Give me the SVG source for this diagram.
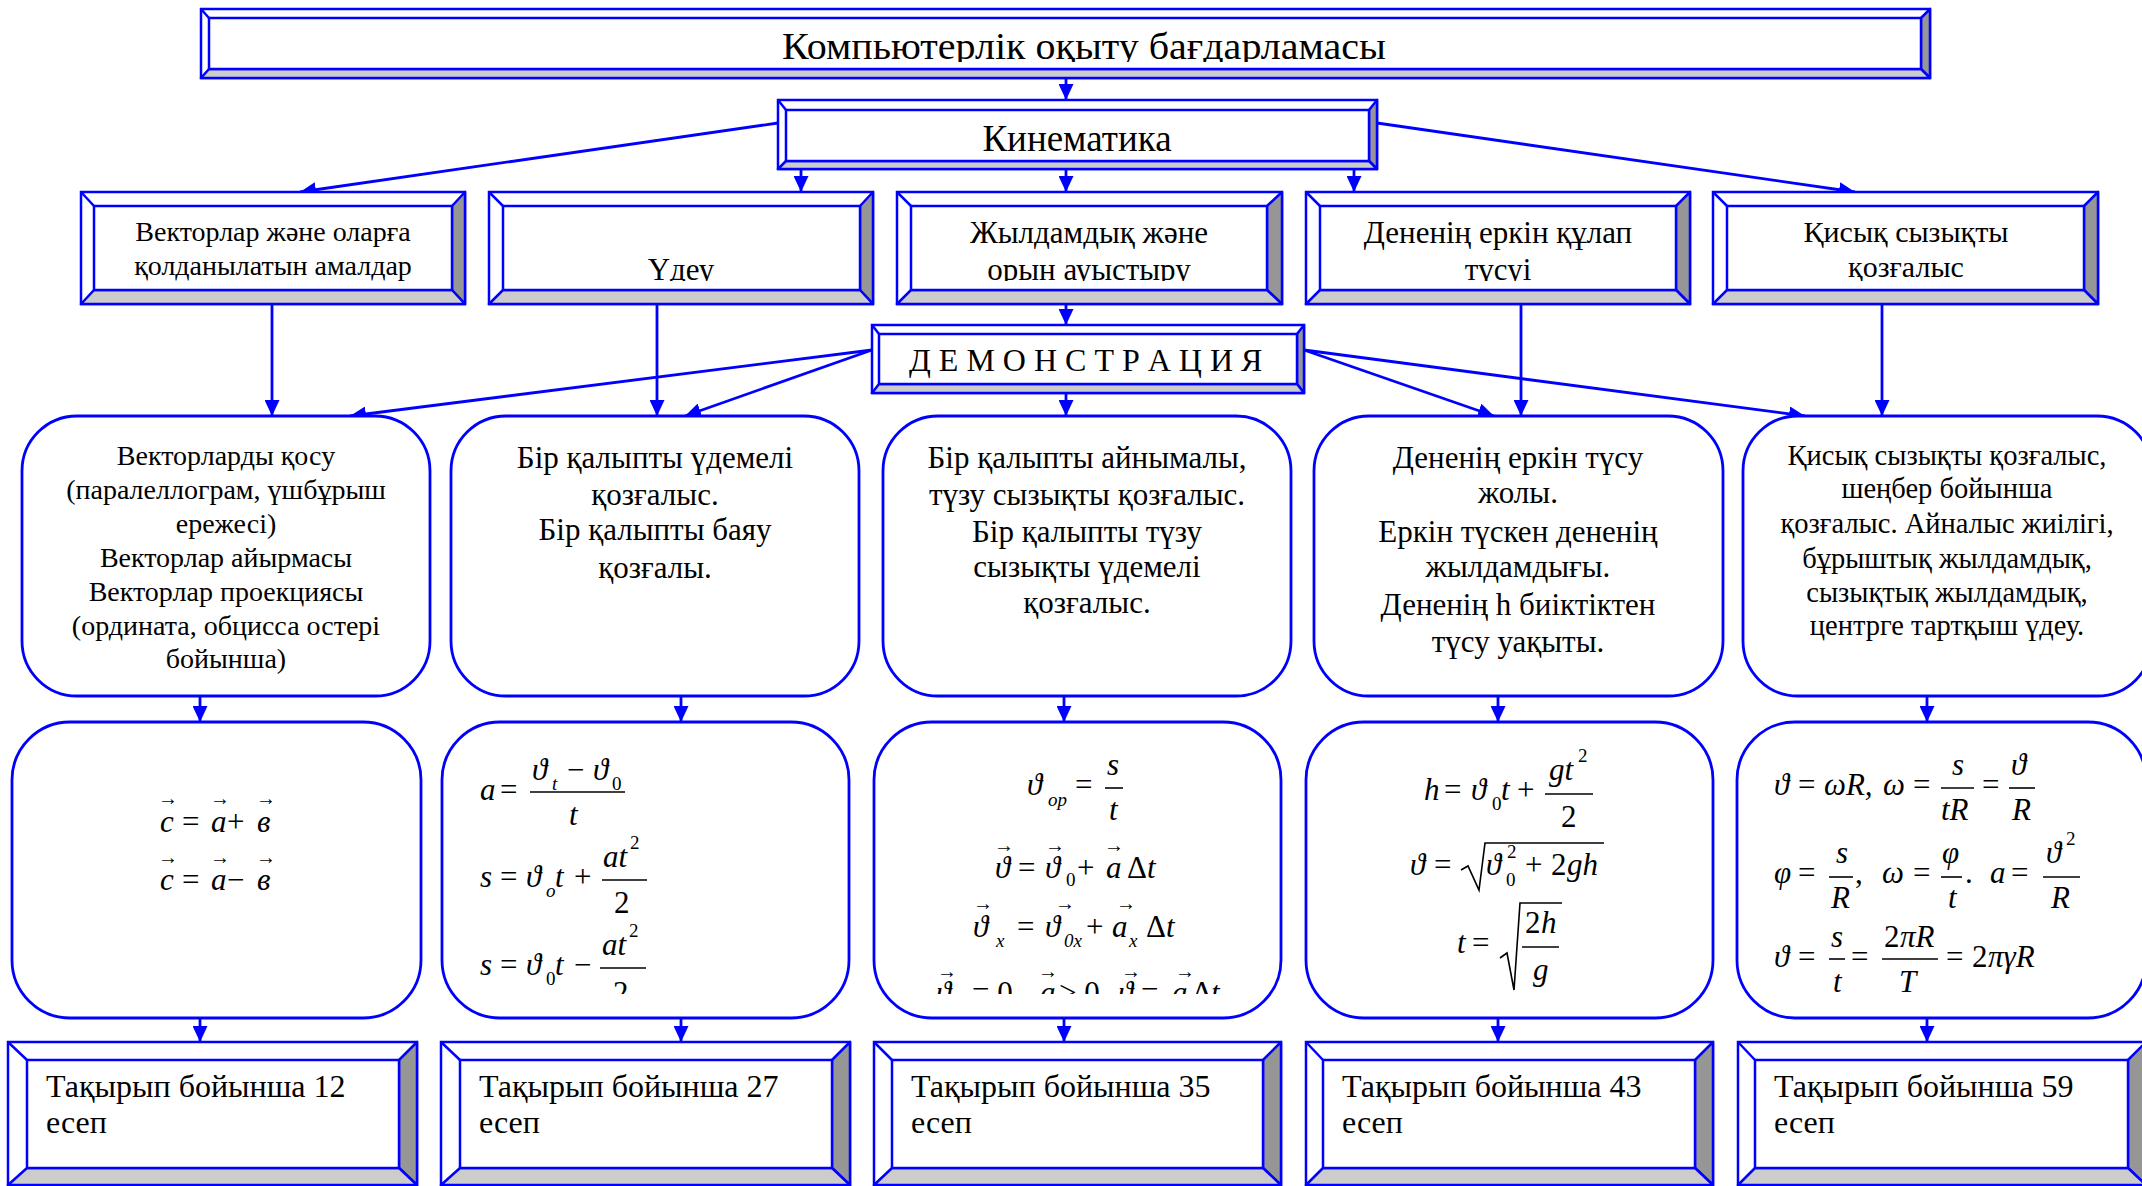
<svg xmlns="http://www.w3.org/2000/svg" width="2142" height="1186" viewBox="0 0 2142 1186">
<defs>
<style>
.o{fill:#fff;stroke:#00f;stroke-width:2.5}
.dk{fill:#969696;stroke:#00f;stroke-width:2.5;stroke-linejoin:round}
.lt{fill:#cccccc;stroke:#00f;stroke-width:2.5;stroke-linejoin:round}
.dg{stroke:#00f;stroke-width:2.5;fill:none}
.r{fill:#fff;stroke:#00f;stroke-width:2.8}
.c{stroke:#00f;stroke-width:2.8;fill:none;marker-end:url(#ah)}
.t{font-family:"Liberation Serif","Times New Roman",serif;fill:#000}
.ctr{text-anchor:middle}
.m{font-family:"Liberation Serif","Times New Roman",serif;font-style:italic;font-size:31px;fill:#000}
.u{font-family:"Liberation Serif","Times New Roman",serif;font-size:31px;fill:#000}
.s{font-size:19px}
.ar{font-family:"Liberation Serif","DejaVu Serif",serif;font-size:20px;fill:#000}
.fl{stroke:#000;stroke-width:1.6;fill:none}
</style>
<marker id="ah" markerUnits="userSpaceOnUse" markerWidth="16" markerHeight="15" refX="16" refY="7.5" orient="auto">
<path d="M0,0 L16,7.5 L0,15 z" fill="#00f"/>
</marker>
<clipPath id="clipTitle"><rect x="209" y="18" width="1712" height="44"/></clipPath>
<clipPath id="clipRow2"><rect x="0" y="206" width="2142" height="75"/></clipPath>
<clipPath id="clipF"><rect x="0" y="730" width="2142" height="264"/></clipPath>
</defs>

<g id="connectors">
<path class="c" d="M1066,78 L1066,100"/>
<path class="c" d="M778,123 L300,192"/>
<path class="c" d="M801,169 L801,192"/>
<path class="c" d="M1066,169 L1066,192"/>
<path class="c" d="M1354,169 L1354,192"/>
<path class="c" d="M1377,123 L1855,192"/>
<path class="c" d="M272,304 L272,416"/>
<path class="c" d="M657,304 L657,416"/>
<path class="c" d="M1066,304 L1066,325"/>
<path class="c" d="M1066,393 L1066,416"/>
<path class="c" d="M1521,304 L1521,416"/>
<path class="c" d="M1882,304 L1882,416"/>
<path class="c" d="M872,350 L350,416"/>
<path class="c" d="M872,350 L685,416"/>
<path class="c" d="M1304,350 L1494,416"/>
<path class="c" d="M1304,350 L1805,416"/>
<path class="c" d="M200,696 L200,722"/>
<path class="c" d="M681,696 L681,722"/>
<path class="c" d="M1064,696 L1064,722"/>
<path class="c" d="M1498,696 L1498,722"/>
<path class="c" d="M1927,696 L1927,722"/>
<path class="c" d="M200,1018 L200,1042"/>
<path class="c" d="M681,1018 L681,1042"/>
<path class="c" d="M1064,1018 L1064,1042"/>
<path class="c" d="M1498,1018 L1498,1042"/>
<path class="c" d="M1927,1018 L1927,1042"/>
</g>

<g id="title">
<rect class="o" x="201" y="9" width="1729" height="69"/>
<polygon class="dk" points="1930,9 1930,78 1921,69 1921,18"/>
<polygon class="lt" points="201,78 1930,78 1921,69 209,69"/>
<rect class="o" x="209" y="18" width="1712" height="51"/>
<line class="dg" x1="201" y1="9" x2="209" y2="18"/>
<text class="t" x="782" y="59" font-size="38" textLength="604" lengthAdjust="spacingAndGlyphs" clip-path="url(#clipTitle)">Компьютерлік оқыту бағдарламасы</text>
</g>

<g id="kinematika">
<rect class="o" x="778" y="100" width="599" height="69"/>
<polygon class="dk" points="1377,100 1377,169 1369,161 1369,110"/>
<polygon class="lt" points="778,169 1377,169 1369,161 786,161"/>
<rect class="o" x="786" y="110" width="583" height="51"/>
<line class="dg" x1="778" y1="100" x2="786" y2="110"/>
<text class="t ctr" x="1077" y="151" font-size="37">Кинематика</text>
</g>

<g id="b2-1">
<rect class="o" x="81" y="192" width="384" height="112"/>
<polygon class="dk" points="465,192 465,304 452,290 452,206"/>
<polygon class="lt" points="81,304 465,304 452,290 94,290"/>
<rect class="o" x="94" y="206" width="358" height="84"/>
<line class="dg" x1="81" y1="192" x2="94" y2="206"/>
<g clip-path="url(#clipRow2)">
<text class="t ctr" x="273" y="241" font-size="28">Векторлар және оларға</text>
<text class="t ctr" x="273" y="275" font-size="28">қолданылатын амалдар</text>
</g>
</g>

<g id="b2-2">
<rect class="o" x="489" y="192" width="384" height="112"/>
<polygon class="dk" points="873,192 873,304 860,290 860,206"/>
<polygon class="lt" points="489,304 873,304 860,290 503,290"/>
<rect class="o" x="503" y="206" width="357" height="84"/>
<line class="dg" x1="489" y1="192" x2="503" y2="206"/>
<g clip-path="url(#clipRow2)">
<text class="t ctr" x="681" y="280" font-size="31">Үдеу</text>
</g>
</g>

<g id="b2-3">
<rect class="o" x="897" y="192" width="385" height="112"/>
<polygon class="dk" points="1282,192 1282,304 1267,290 1267,206"/>
<polygon class="lt" points="897,304 1282,304 1267,290 911,290"/>
<rect class="o" x="911" y="206" width="356" height="84"/>
<line class="dg" x1="897" y1="192" x2="911" y2="206"/>
<g clip-path="url(#clipRow2)">
<text class="t ctr" x="1089" y="243" font-size="31">Жылдамдық және</text>
<text class="t ctr" x="1089" y="280" font-size="31">орын ауыстыру</text>
</g>
</g>

<g id="b2-4">
<rect class="o" x="1306" y="192" width="384" height="112"/>
<polygon class="dk" points="1690,192 1690,304 1676,290 1676,206"/>
<polygon class="lt" points="1306,304 1690,304 1676,290 1320,290"/>
<rect class="o" x="1320" y="206" width="356" height="84"/>
<line class="dg" x1="1306" y1="192" x2="1320" y2="206"/>
<g clip-path="url(#clipRow2)">
<text class="t ctr" x="1498" y="243" font-size="31">Дененің еркін құлап</text>
<text class="t ctr" x="1498" y="280" font-size="31">түсуі</text>
</g>
</g>

<g id="b2-5">
<rect class="o" x="1713" y="192" width="385" height="112"/>
<polygon class="dk" points="2098,192 2098,304 2084,290 2084,206"/>
<polygon class="lt" points="1713,304 2098,304 2084,290 1727,290"/>
<rect class="o" x="1727" y="206" width="357" height="84"/>
<line class="dg" x1="1713" y1="192" x2="1727" y2="206"/>
<g clip-path="url(#clipRow2)">
<text class="t ctr" x="1906" y="242" font-size="30">Қисық сызықты</text>
<text class="t ctr" x="1906" y="277" font-size="30">қозғалыс</text>
</g>
</g>

<g id="demo">
<rect class="o" x="872" y="325" width="432" height="68"/>
<polygon class="dk" points="1304,325 1304,393 1297,384 1297,334"/>
<polygon class="lt" points="872,393 1304,393 1297,384 879,384"/>
<rect class="o" x="879" y="334" width="418" height="50"/>
<line class="dg" x1="872" y1="325" x2="879" y2="334"/>
<text class="t" x="909" y="371" font-size="32">Д Е М О Н С Т Р А Ц И Я</text>
</g>

<g id="r3-1">
<rect class="r" x="22" y="416" width="408" height="280" rx="55" ry="55"/>
<g class="t ctr" font-size="28">
<text x="226" y="465">Векторларды қосу</text>
<text x="226" y="499">(паралеллограм, үшбұрыш</text>
<text x="226" y="533">ережесі)</text>
<text x="226" y="567">Векторлар айырмасы</text>
<text x="226" y="601">Векторлар проекциясы</text>
<text x="226" y="635">(ордината, обцисса остері</text>
<text x="226" y="668">бойынша)</text>
</g>
</g>

<g id="r3-2">
<rect class="r" x="451" y="416" width="408" height="280" rx="55" ry="55"/>
<g class="t ctr" font-size="31">
<text x="655" y="468">Бір қалыпты үдемелі</text>
<text x="655" y="505">қозғалыс.</text>
<text x="655" y="540">Бір қалыпты баяу</text>
<text x="655" y="578">қозғалы.</text>
</g>
</g>

<g id="r3-3">
<rect class="r" x="883" y="416" width="408" height="280" rx="55" ry="55"/>
<g class="t ctr" font-size="31">
<text x="1087" y="468">Бір қалыпты айнымалы,</text>
<text x="1087" y="505">түзу сызықты қозғалыс.</text>
<text x="1087" y="542">Бір қалыпты түзу</text>
<text x="1087" y="577">сызықты үдемелі</text>
<text x="1087" y="613">қозғалыс.</text>
</g>
</g>

<g id="r3-4">
<rect class="r" x="1314" y="416" width="409" height="280" rx="55" ry="55"/>
<g class="t ctr" font-size="31">
<text x="1518" y="468">Дененің еркін түсу</text>
<text x="1518" y="503">жолы.</text>
<text x="1518" y="542">Еркін түскен дененің</text>
<text x="1518" y="577">жылдамдығы.</text>
<text x="1518" y="615">Дененің h биіктіктен</text>
<text x="1518" y="652">түсу уақыты.</text>
</g>
</g>

<g id="r3-5">
<rect class="r" x="1743" y="416" width="409" height="280" rx="55" ry="55"/>
<g class="t ctr" font-size="28.5">
<text x="1947" y="465">Қисық сызықты қозғалыс,</text>
<text x="1947" y="498">шеңбер бойынша</text>
<text x="1947" y="533">қозғалыс. Айналыс жиілігі,</text>
<text x="1947" y="568">бұрыштық жылдамдық,</text>
<text x="1947" y="602">сызықтық жылдамдық,</text>
<text x="1947" y="635">центрге тартқыш үдеу.</text>
</g>
</g>

<g id="r4-1">
<rect class="r" x="12" y="722" width="409" height="296" rx="58" ry="58"/>
<text class="ar" x="158" y="805">→</text><text class="ar" x="210" y="805">→</text><text class="ar" x="256" y="805">→</text>
<text class="m" x="160" y="832">c</text><text class="u" x="182" y="832">=</text><text class="m" x="211" y="832">a</text><text class="u" x="227" y="832">+</text><text class="m" x="257" y="832">в</text>
<text class="ar" x="158" y="864">→</text><text class="ar" x="210" y="864">→</text><text class="ar" x="256" y="864">→</text>
<text class="m" x="160" y="890">c</text><text class="u" x="182" y="890">=</text><text class="m" x="211" y="890">a</text><text class="u" x="227" y="890">−</text><text class="m" x="257" y="890">в</text>
</g>

<g id="r4-2">
<rect class="r" x="442" y="722" width="407" height="296" rx="58" ry="58"/>
<g clip-path="url(#clipF)">
<text class="m" x="480" y="800">a</text><text class="u" x="500" y="800">=</text>
<line class="fl" x1="530" y1="792" x2="625" y2="792"/>
<text class="m" x="532" y="780">ϑ</text><text class="m s" x="552" y="790">t</text><text class="u" x="567" y="780">−</text><text class="m" x="593" y="780">ϑ</text><text class="u s" x="612" y="790">0</text>
<text class="m" x="569" y="825">t</text>
<text class="m" x="480" y="887">s</text><text class="u" x="500" y="887">=</text><text class="m" x="526" y="887">ϑ</text><text class="m s" x="546" y="897">o</text><text class="m" x="555" y="887">t</text><text class="u" x="574" y="887">+</text>
<line class="fl" x1="602" y1="880" x2="647" y2="880"/>
<text class="m" x="603" y="867">at</text><text class="u s" x="630" y="849">2</text><text class="u" x="614" y="913">2</text>
<text class="m" x="480" y="975">s</text><text class="u" x="500" y="975">=</text><text class="m" x="526" y="975">ϑ</text><text class="u s" x="546" y="985">0</text><text class="m" x="555" y="975">t</text><text class="u" x="574" y="975">−</text>
<line class="fl" x1="600" y1="968" x2="646" y2="968"/>
<text class="m" x="602" y="955">at</text><text class="u s" x="629" y="937">2</text><text class="u" x="613" y="1003">2</text>
</g>
</g>

<g id="r4-3">
<rect class="r" x="874" y="722" width="407" height="296" rx="58" ry="58"/>
<g clip-path="url(#clipF)">
<text class="m" x="1027" y="795">ϑ</text><text class="m s" x="1048" y="806">op</text><text class="u" x="1075" y="795">=</text>
<line class="fl" x1="1105" y1="788" x2="1123" y2="788"/>
<text class="m" x="1107" y="775">s</text><text class="m" x="1109" y="820">t</text>
<text class="ar" x="994" y="852">→</text><text class="ar" x="1045" y="852">→</text><text class="ar" x="1104" y="852">→</text>
<text class="m" x="995" y="878">ϑ</text><text class="u" x="1018" y="878">=</text><text class="m" x="1045" y="878">ϑ</text><text class="u s" x="1066" y="886">0</text><text class="u" x="1077" y="878">+</text><text class="m" x="1106" y="878">a</text><text class="u" x="1127" y="878">Δ</text><text class="m" x="1147" y="878">t</text>
<text class="ar" x="973" y="910">→</text><text class="ar" x="1055" y="910">→</text><text class="ar" x="1116" y="910">→</text>
<text class="m" x="973" y="937">ϑ</text><text class="m s" x="996" y="947">x</text><text class="u" x="1017" y="937">=</text><text class="m" x="1045" y="937">ϑ</text><text class="m s" x="1064" y="947">0x</text><text class="u" x="1086" y="937">+</text><text class="m" x="1112" y="937">a</text><text class="m s" x="1129" y="947">x</text><text class="u" x="1146" y="937">Δ</text><text class="m" x="1166" y="937">t</text>
<text class="ar" x="937" y="978">→</text><text class="ar" x="1038" y="978">→</text><text class="ar" x="1121" y="978">→</text><text class="ar" x="1175" y="978">→</text>
<text class="m" x="936" y="1003">ϑ</text><text class="u s" x="956" y="1010">0</text><text class="u" x="972" y="1003">= 0</text><text class="m" x="1040" y="1003">a</text><text class="u" x="1059" y="1003">&gt; 0</text><text class="m" x="1118" y="1003">ϑ</text><text class="u" x="1141" y="1003">=</text><text class="m" x="1172" y="1003">a</text><text class="u" x="1192" y="1003">Δ</text><text class="m" x="1211" y="1003">t</text>
</g>
</g>

<g id="r4-4">
<rect class="r" x="1306" y="722" width="407" height="296" rx="58" ry="58"/>
<text class="m" x="1424" y="800">h</text><text class="u" x="1444" y="800">=</text><text class="m" x="1471" y="800">ϑ</text><text class="u s" x="1492" y="810">0</text><text class="m" x="1501" y="800">t</text><text class="u" x="1517" y="800">+</text>
<line class="fl" x1="1545" y1="794" x2="1593" y2="794"/>
<text class="m" x="1549" y="780">gt</text><text class="u s" x="1578" y="762">2</text><text class="u" x="1561" y="827">2</text>
<text class="m" x="1410" y="875">ϑ</text><text class="u" x="1434" y="875">=</text>
<path class="fl" d="M1461,870 L1468,866 L1479,890 L1485,843 L1604,843"/>
<text class="m" x="1486" y="875">ϑ</text><text class="u s" x="1507" y="858">2</text><text class="u s" x="1506" y="886">0</text><text class="u" x="1525" y="875">+</text><text class="u" x="1551" y="875">2</text><text class="m" x="1567" y="875">gh</text>
<text class="m" x="1457" y="953">t</text><text class="u" x="1472" y="953">=</text>
<path class="fl" d="M1500,958 L1507,953 L1514,990 L1520,903 L1562,903"/>
<line class="fl" x1="1522" y1="947" x2="1559" y2="947"/>
<text class="u" x="1525" y="933">2</text><text class="m" x="1541" y="933">h</text><text class="m" x="1533" y="980">g</text>
</g>

<g id="r4-5">
<rect class="r" x="1737" y="722" width="409" height="296" rx="58" ry="58"/>
<text class="m" x="1774" y="795">ϑ</text><text class="u" x="1798" y="795">=</text><text class="m" x="1824" y="795">ωR,</text><text class="m" x="1883" y="795">ω</text><text class="u" x="1913" y="795">=</text>
<line class="fl" x1="1941" y1="788" x2="1974" y2="788"/>
<text class="m" x="1952" y="775">s</text><text class="m" x="1941" y="820">tR</text><text class="u" x="1982" y="795">=</text>
<line class="fl" x1="2009" y1="788" x2="2035" y2="788"/>
<text class="m" x="2011" y="775">ϑ</text><text class="m" x="2012" y="820">R</text>
<text class="m" x="1774" y="883">φ</text><text class="u" x="1798" y="883">=</text>
<line class="fl" x1="1829" y1="877" x2="1853" y2="877"/>
<text class="m" x="1836" y="863">s</text><text class="m" x="1831" y="908">R</text><text class="u" x="1855" y="883">,</text>
<text class="m" x="1882" y="883">ω</text><text class="u" x="1913" y="883">=</text>
<line class="fl" x1="1941" y1="877" x2="1962" y2="877"/>
<text class="m" x="1942" y="863">φ</text><text class="m" x="1948" y="908">t</text><text class="u" x="1965" y="883">.</text>
<text class="m" x="1990" y="883">a</text><text class="u" x="2011" y="883">=</text>
<line class="fl" x1="2043" y1="877" x2="2080" y2="877"/>
<text class="m" x="2046" y="863">ϑ</text><text class="u s" x="2066" y="845">2</text><text class="m" x="2051" y="908">R</text>
<text class="m" x="1774" y="967">ϑ</text><text class="u" x="1798" y="967">=</text>
<line class="fl" x1="1829" y1="959" x2="1845" y2="959"/>
<text class="m" x="1831" y="947">s</text><text class="m" x="1833" y="992">t</text><text class="u" x="1851" y="967">=</text>
<line class="fl" x1="1882" y1="959" x2="1938" y2="959"/>
<text class="u" x="1884" y="947">2</text><text class="m" x="1900" y="947">πR</text><text class="m" x="1899" y="992">T</text><text class="u" x="1946" y="967">=</text>
<text class="u" x="1972" y="967">2</text><text class="m" x="1988" y="967">πγR</text>
</g>

<g id="r5-1">
<rect class="o" x="8" y="1042" width="409" height="143"/>
<polygon class="dk" points="417,1042 417,1185 399,1168 399,1060"/>
<polygon class="lt" points="8,1185 417,1185 399,1168 27,1168"/>
<rect class="o" x="27" y="1060" width="372" height="108"/>
<line class="dg" x1="8" y1="1042" x2="27" y2="1060"/>
<text class="t" x="46" y="1097" font-size="32">Тақырып бойынша 12</text>
<text class="t" x="46" y="1133" font-size="32">есеп</text>
</g>

<g id="r5-2">
<rect class="o" x="441" y="1042" width="409" height="143"/>
<polygon class="dk" points="850,1042 850,1185 832,1168 832,1060"/>
<polygon class="lt" points="441,1185 850,1185 832,1168 460,1168"/>
<rect class="o" x="460" y="1060" width="372" height="108"/>
<line class="dg" x1="441" y1="1042" x2="460" y2="1060"/>
<text class="t" x="479" y="1097" font-size="32">Тақырып бойынша 27</text>
<text class="t" x="479" y="1133" font-size="32">есеп</text>
</g>

<g id="r5-3">
<rect class="o" x="874" y="1042" width="407" height="143"/>
<polygon class="dk" points="1281,1042 1281,1185 1263,1168 1263,1060"/>
<polygon class="lt" points="874,1185 1281,1185 1263,1168 892,1168"/>
<rect class="o" x="892" y="1060" width="371" height="108"/>
<line class="dg" x1="874" y1="1042" x2="892" y2="1060"/>
<text class="t" x="911" y="1097" font-size="32">Тақырып бойынша 35</text>
<text class="t" x="911" y="1133" font-size="32">есеп</text>
</g>

<g id="r5-4">
<rect class="o" x="1306" y="1042" width="407" height="143"/>
<polygon class="dk" points="1713,1042 1713,1185 1695,1168 1695,1060"/>
<polygon class="lt" points="1306,1185 1713,1185 1695,1168 1323,1168"/>
<rect class="o" x="1323" y="1060" width="372" height="108"/>
<line class="dg" x1="1306" y1="1042" x2="1323" y2="1060"/>
<text class="t" x="1342" y="1097" font-size="32">Тақырып бойынша 43</text>
<text class="t" x="1342" y="1133" font-size="32">есеп</text>
</g>

<g id="r5-5">
<rect class="o" x="1738" y="1042" width="408" height="143"/>
<polygon class="dk" points="2146,1042 2146,1185 2128,1168 2128,1060"/>
<polygon class="lt" points="1738,1185 2146,1185 2128,1168 1755,1168"/>
<rect class="o" x="1755" y="1060" width="373" height="108"/>
<line class="dg" x1="1738" y1="1042" x2="1755" y2="1060"/>
<text class="t" x="1774" y="1097" font-size="32">Тақырып бойынша 59</text>
<text class="t" x="1774" y="1133" font-size="32">есеп</text>
</g>
</svg>
